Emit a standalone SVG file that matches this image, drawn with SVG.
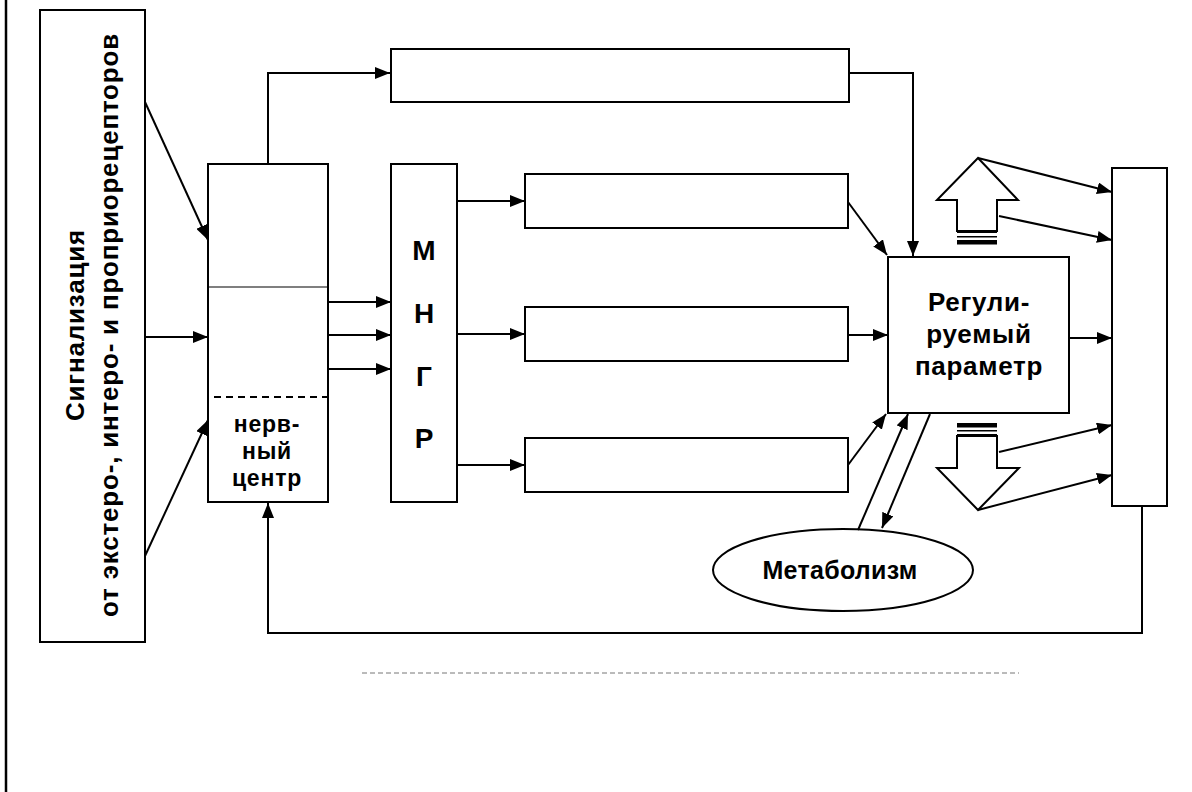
<svg xmlns="http://www.w3.org/2000/svg" width="1192" height="792" viewBox="0 0 1192 792">
<style>
.box{fill:#fff;stroke:#000;stroke-width:2}
.ln{fill:none;stroke:#000;stroke-width:2}
.t{font-family:"Liberation Sans",Arial,sans-serif;font-weight:bold;fill:#000;text-anchor:middle}
</style>
<defs>
<marker id="ah" markerWidth="15" markerHeight="12" refX="15" refY="6" orient="auto" markerUnits="userSpaceOnUse">
<path d="M0,0 L15,6 L0,12 z" fill="#000"/>
</marker>
</defs>
<rect width="1192" height="792" fill="#fff"/>
<line x1="6" y1="0" x2="6" y2="792" stroke="#000" stroke-width="2.5"/>

<g id="signal">
<rect class="box" x="40" y="10" width="105" height="632" stroke-width="1.5"/>
<text class="t" font-size="26" letter-spacing="0.8" transform="translate(84,325) rotate(-90)">Сигнализация</text>
<text class="t" font-size="26" letter-spacing="0.8" transform="translate(118,325) rotate(-90)">от экстеро-, интеро- и проприорецепторов</text>
</g>

<g id="nerve-center">
<rect class="box" x="208" y="164" width="120" height="338"/>
<line x1="209" y1="287" x2="327" y2="287" stroke="#555" stroke-width="1.5"/>
<line x1="214" y1="397" x2="330" y2="397" stroke="#000" stroke-width="2" stroke-dasharray="7,5"/>
<text class="t" font-size="23" letter-spacing="0.8" x="267" y="432">нерв-</text>
<text class="t" font-size="23" letter-spacing="0.8" x="267" y="459">ный</text>
<text class="t" font-size="23" letter-spacing="0.8" x="267" y="486">центр</text>
</g>

<g id="mngr">
<rect class="box" x="391" y="164" width="66" height="338"/>
<text class="t" font-size="28" x="424" y="260">М</text>
<text class="t" font-size="28" x="424" y="323">Н</text>
<text class="t" font-size="28" x="424" y="386">Г</text>
<text class="t" font-size="28" x="424" y="448">Р</text>
</g>

<g id="box-top"><rect class="box" x="391" y="49" width="458" height="53"/></g>
<g id="box-2"><rect class="box" x="525" y="174" width="323" height="54"/></g>
<g id="box-3"><rect class="box" x="525" y="307" width="323" height="54"/></g>
<g id="box-4"><rect class="box" x="525" y="438" width="323" height="54"/></g>

<g id="regulated">
<rect class="box" x="888" y="257" width="181" height="156"/>
<text class="t" font-size="26" letter-spacing="0.7" x="979" y="311">Регули-</text>
<text class="t" font-size="26" letter-spacing="0.7" x="979" y="343">руемый</text>
<text class="t" font-size="26" letter-spacing="0.7" x="979" y="375">параметр</text>
</g>

<g id="right-box"><rect class="box" x="1112" y="168" width="55" height="338"/></g>

<g id="metabolism">
<ellipse class="box" cx="843" cy="570" rx="130" ry="41"/>
<text class="t" font-size="25" letter-spacing="0.3" x="840" y="579">Метаболизм</text>
</g>

<g id="arrow-up">
<path class="box" d="M978,158 L1018,200 L997,200 L997,231 L957,231 L957,200 L937,200 Z"/>
<rect x="957" y="230" width="40" height="3" fill="#000"/>
<rect x="957" y="236" width="40" height="1.5" fill="#000"/>
<rect x="957" y="240" width="40" height="4.5" fill="#000"/>
</g>

<g id="arrow-down">
<rect x="957" y="423" width="40" height="4.5" fill="#000"/>
<rect x="957" y="430" width="40" height="1.5" fill="#000"/>
<rect x="957" y="434" width="40" height="3" fill="#000"/>
<path class="box" d="M957,436 L997,436 L997,468 L1019,468 L978,510 L937,468 L957,468 Z"/>
</g>

<g id="connectors" class="ln">
<line class="ln" x1="145" y1="102" x2="208" y2="240" marker-end="url(#ah)"/>
<line class="ln" x1="145" y1="337" x2="208" y2="337" marker-end="url(#ah)"/>
<line class="ln" x1="145" y1="556" x2="208" y2="420" marker-end="url(#ah)"/>
<line class="ln" x1="328" y1="302" x2="391" y2="302" marker-end="url(#ah)"/>
<line class="ln" x1="328" y1="335" x2="391" y2="335" marker-end="url(#ah)"/>
<line class="ln" x1="328" y1="369" x2="391" y2="369" marker-end="url(#ah)"/>
<path class="ln" d="M268,164 V73 H390" marker-end="url(#ah)"/>
<path class="ln" d="M849,73 H913 V256" marker-end="url(#ah)"/>
<line class="ln" x1="457" y1="201" x2="525" y2="201" marker-end="url(#ah)"/>
<line class="ln" x1="457" y1="334" x2="525" y2="334" marker-end="url(#ah)"/>
<line class="ln" x1="457" y1="465" x2="525" y2="465" marker-end="url(#ah)"/>
<line class="ln" x1="848" y1="202" x2="887" y2="255" marker-end="url(#ah)"/>
<line class="ln" x1="848" y1="335" x2="888" y2="335" marker-end="url(#ah)"/>
<line class="ln" x1="848" y1="465" x2="886" y2="414" marker-end="url(#ah)"/>
<line class="ln" x1="1069" y1="338" x2="1112" y2="338" marker-end="url(#ah)"/>
<line class="ln" x1="978" y1="158" x2="1112" y2="192" marker-end="url(#ah)"/>
<line class="ln" x1="999" y1="216" x2="1112" y2="240" marker-end="url(#ah)"/>
<line class="ln" x1="999" y1="452" x2="1112" y2="425" marker-end="url(#ah)"/>
<line class="ln" x1="978" y1="510" x2="1112" y2="475" marker-end="url(#ah)"/>
<line class="ln" x1="858" y1="530" x2="908" y2="414" marker-end="url(#ah)"/>
<line class="ln" x1="930" y1="414" x2="882" y2="528" marker-end="url(#ah)"/>
<path class="ln" d="M1142,506 V633 H268 V503" marker-end="url(#ah)"/>
</g>

<line x1="362" y1="673" x2="1019" y2="673" stroke="#777" stroke-width="1" stroke-dasharray="5,3"/>
</svg>
